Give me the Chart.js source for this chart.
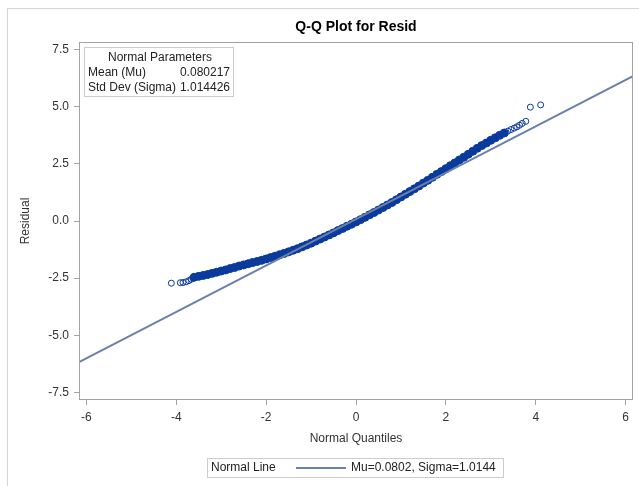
<!DOCTYPE html>
<html>
<head>
<meta charset="utf-8">
<title>Q-Q Plot for Resid</title>
<script src="https://cdn.jsdelivr.net/npm/chart.js@4/dist/chart.umd.min.js"></script>
<style>
  body { margin: 0; background: #fff; }
  canvas { display: block; }
</style>
</head>
<body>
<canvas id="canvas" width="639" height="486"></canvas>
<script>
// normal parameters of the residuals
const mu = 0.080217;
const sigma = 1.014426;

// axes
const xRange = [-6.165, 6.165];
const yRange = [-7.83, 7.83];
const xTicks = [-6, -4, -2, 0, 2, 4, 6];
const yTicks = [-7.5, -5.0, -2.5, 0.0, 2.5, 5.0, 7.5];

// bulk of the sorted residuals vs normal quantiles (dense, drawn solid)
const bodyQuantiles = [
  -3.6, -3.5, -3.4, -3.3, -3.2, -3.1, -3.0, -2.9, -2.8, -2.7,
  -2.6, -2.5, -2.4, -2.3, -2.2, -2.1, -2.0, -1.9, -1.8, -1.7,
  -1.6, -1.5, -1.4, -1.3, -1.2, -1.1, -1.0, -0.9, -0.8, -0.7,
  -0.6, -0.5, -0.4, -0.3, -0.2, -0.1, 0.0, 0.1, 0.2, 0.3,
  0.4, 0.5, 0.6, 0.7, 0.8, 0.9, 1.0, 1.1, 1.2, 1.3,
  1.4, 1.5, 1.6, 1.7, 1.8, 1.9, 2.0, 2.1, 2.2, 2.3,
  2.4, 2.5, 2.6, 2.7, 2.8, 2.9, 3.0, 3.1, 3.2, 3.3
];
const bodyResiduals = [
  -2.46, -2.42, -2.38, -2.34, -2.29, -2.24, -2.19, -2.14, -2.08, -2.03,
  -1.97, -1.92, -1.87, -1.82, -1.77, -1.72, -1.66, -1.60, -1.54, -1.48,
  -1.42, -1.35, -1.28, -1.21, -1.13, -1.05, -0.97, -0.88, -0.79, -0.70,
  -0.61, -0.52, -0.42, -0.33, -0.23, -0.14, -0.04, 0.06, 0.16, 0.27,
  0.37, 0.48, 0.59, 0.70, 0.81, 0.93, 1.05, 1.17, 1.29, 1.41,
  1.53, 1.66, 1.78, 1.91, 2.04, 2.16, 2.29, 2.42, 2.54, 2.67,
  2.79, 2.92, 3.05, 3.18, 3.30, 3.41, 3.53, 3.64, 3.75, 3.85
];

// sparse tail points (open circles)
const tailQuantiles = [-4.11, -3.91, -3.85, -3.78, -3.72, -3.67, -3.63,
  3.38, 3.45, 3.52, 3.58, 3.64, 3.70, 3.78, 3.88, 4.11];
const tailResiduals = [-2.72, -2.70, -2.69, -2.66, -2.61, -2.55, -2.50,
  3.93, 4.00, 4.06, 4.12, 4.19, 4.27, 4.36, 4.98, 5.08];

const FONT = "'Liberation Sans', Arial, sans-serif";
const markerColor = '#0a3a9c';
const lineColor = '#6b80ab';

function toPoints(xs, ys) {
  return xs.map((x, i) => ({ x: x, y: ys[i] }));
}

// frame, title, parameter inset and the legend box
const decorations = {
  id: 'decorations',
  beforeDraw(chart) {
    const ctx = chart.ctx;
    ctx.save();
    ctx.fillStyle = '#fff';
    ctx.fillRect(0, 0, chart.width, chart.height);
    ctx.strokeStyle = '#d4d4d4';
    ctx.lineWidth = 1;
    ctx.strokeRect(7.5, 8.5, chart.width + 10, chart.height + 10);
    ctx.restore();
  },
  afterDraw(chart) {
    const ctx = chart.ctx;
    const a = chart.chartArea;
    ctx.save();
    ctx.lineWidth = 1;

    ctx.strokeStyle = '#a3a3a3';
    ctx.strokeRect(a.left + 0.5, a.top + 0.5, a.right - a.left - 1, a.bottom - a.top - 1);

    ctx.fillStyle = '#000';
    ctx.font = 'bold 14px ' + FONT;
    ctx.textAlign = 'center';
    ctx.textBaseline = 'middle';
    ctx.fillText('Q-Q Plot for Resid', (a.left + a.right) / 2, 27);

    // inset with the fitted parameters
    ctx.strokeStyle = '#cccccc';
    ctx.strokeRect(84.5, 47.5, 149, 49);
    ctx.font = '12px ' + FONT;
    ctx.fillStyle = '#222';
    ctx.fillText('Normal Parameters', 160, 57.5);
    ctx.textAlign = 'left';
    ctx.fillText('Mean (Mu)', 88, 72.5);
    ctx.fillText('Std Dev (Sigma)', 88, 88);
    ctx.textAlign = 'right';
    ctx.fillText(mu.toFixed(6), 230, 72.5);
    ctx.fillText(sigma.toFixed(6), 230, 88);

    // legend
    ctx.strokeStyle = '#cccccc';
    ctx.strokeRect(207.5, 458.5, 296, 19);
    ctx.textAlign = 'left';
    ctx.fillText('Normal Line', 211, 468);
    ctx.strokeStyle = lineColor;
    ctx.lineWidth = 2;
    ctx.beginPath();
    ctx.moveTo(296, 468);
    ctx.lineTo(346, 468);
    ctx.stroke();
    ctx.fillText('Mu=' + mu.toFixed(4) + ', Sigma=' + sigma.toFixed(4), 351, 468);
    ctx.restore();
  }
};

new Chart(document.getElementById('canvas'), {
  type: 'scatter',
  data: {
    datasets: [
      {
        label: 'Normal Line',
        data: xRange.map((q) => ({ x: q, y: mu + sigma * q })),
        showLine: true,
        borderColor: lineColor,
        borderWidth: 2,
        pointRadius: 0,
        order: 0
      },
      {
        label: 'Resid',
        data: toPoints(bodyQuantiles, bodyResiduals),
        pointStyle: 'circle',
        pointRadius: 4,
        borderWidth: 1,
        borderColor: markerColor,
        backgroundColor: markerColor,
        order: 1
      },
      {
        label: 'Resid tails',
        data: toPoints(tailQuantiles, tailResiduals),
        pointStyle: 'circle',
        pointRadius: 3,
        borderWidth: 1,
        borderColor: markerColor,
        backgroundColor: 'rgba(0,0,0,0)',
        order: 1
      }
    ]
  },
  options: {
    responsive: false,
    animation: false,
    layout: { padding: { left: 0, right: 6, top: 42, bottom: 40 } },
    plugins: {
      legend: { display: false },
      tooltip: { enabled: false }
    },
    scales: {
      x: {
        type: 'linear',
        min: xRange[0],
        max: xRange[1],
        afterFit: (scale) => { scale.height = 46; },
        afterBuildTicks: (scale) => { scale.ticks = xTicks.map((v) => ({ value: v })); },
        border: { display: false },
        grid: { drawOnChartArea: false, drawTicks: true, tickLength: 5, color: '#a3a3a3' },
        ticks: {
          padding: 5,
          color: '#333',
          font: { family: FONT, size: 12 },
          callback: (v) => String(v)
        },
        title: {
          display: true,
          text: 'Normal Quantiles',
          color: '#333',
          font: { family: FONT, size: 12 },
          padding: { top: 0, bottom: 0 }
        }
      },
      y: {
        type: 'linear',
        min: yRange[0],
        max: yRange[1],
        afterFit: (scale) => { scale.width = 79; },
        afterBuildTicks: (scale) => { scale.ticks = yTicks.map((v) => ({ value: v })); },
        border: { display: false },
        grid: { drawOnChartArea: false, drawTicks: true, tickLength: 5, color: '#a3a3a3' },
        ticks: {
          padding: 5,
          color: '#333',
          font: { family: FONT, size: 12 },
          callback: (v) => Number(v).toFixed(1)
        },
        title: {
          display: true,
          text: 'Residual',
          color: '#333',
          font: { family: FONT, size: 12 },
          padding: { top: 18, bottom: 0 }
        }
      }
    }
  },
  plugins: [decorations]
});
</script>
</body>
</html>
